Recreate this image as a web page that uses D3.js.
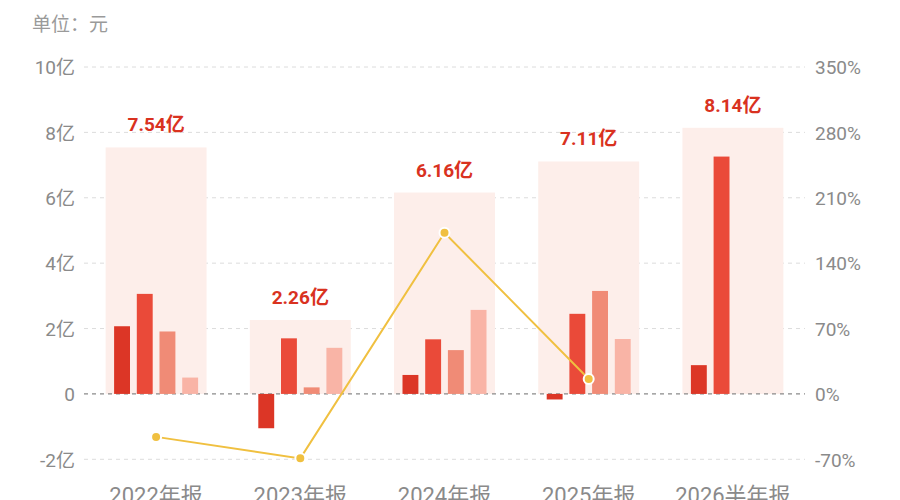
<!DOCTYPE html>
<html>
<head>
<meta charset="utf-8">
<script src="https://cdn.jsdelivr.net/npm/d3@7"></script>
<style>
  html, body { margin: 0; padding: 0; background: #fff; }
  svg { display: block; }
</style>
</head>
<body>
<svg id="chart" width="900" height="500"></svg>
<script>
const categories = ["2022年报", "2023年报", "2024年报", "2025年报", "2026半年报"];
const totals = [7.54, 2.26, 6.16, 7.11, 8.14];
const totalLabels = ["7.54亿", "2.26亿", "6.16亿", "7.11亿", "8.14亿"];
const q1 = [2.07, -1.05, 0.58, -0.17, 0.88];
const q2 = [3.06, 1.70, 1.67, 2.45, 7.26];
const q3 = [1.91, 0.20, 1.34, 3.15, null];
const q4 = [0.50, 1.41, 2.57, 1.68, null];
const growth = [-46, -69, 172.5, 16, null];
const leftTicks = [-2, 0, 2, 4, 6, 8, 10];
const leftTickLabels = ["-2亿", "0", "2亿", "4亿", "6亿", "8亿", "10亿"];
const rightTicks = [-70, 0, 70, 140, 210, 280, 350];
const rightTickLabels = ["-70%", "0%", "70%", "140%", "210%", "280%", "350%"];
const seriesColors = ["#dc3626", "#ea4a39", "#f08b76", "#f9b4a6"];

(function () {
const svg = d3.select("#chart");
const mLeft = 84, mRight = 805, mTop = 67, mBottom = 459.3;
const numFont = "Roboto, 'Noto Sans CJK SC', sans-serif";

const x = d3.scaleBand().domain(categories).range([mLeft, mRight]).padding(0);
const y = d3.scaleLinear().domain([-2, 10]).range([mBottom, mTop]);
const yR = d3.scaleLinear().domain([-70, 350]).range([mBottom, mTop]);
const inner = d3.scaleBand().domain([0, 1, 2, 3]).range([-42, 42]).paddingInner(0.3);

// title
svg.append("text").attr("x", 32).attr("y", 31)
  .attr("font-family", "'Noto Sans CJK SC', sans-serif").attr("font-size", 19)
  .attr("fill", "#9a9a9a").text("单位：元");

// gridlines
const grid = svg.append("g");
grid.selectAll("line").data(leftTicks.filter(d => d !== 0)).join("line")
  .attr("x1", mLeft).attr("x2", mRight)
  .attr("y1", d => y(d)).attr("y2", d => y(d))
  .attr("stroke", "#dcdcdc")
  .attr("stroke-width", 1)
  .attr("stroke-dasharray", "4,4");

// left axis labels
const yAxis = d3.axisLeft(y).tickValues(leftTicks)
  .tickFormat((d, i) => leftTickLabels[i]).tickSize(0).tickPadding(0);
const gl = svg.append("g").attr("transform", `translate(75,0)`).call(yAxis);
gl.select(".domain").remove();
gl.selectAll("text").attr("font-family", numFont).attr("font-size", 19)
  .attr("fill", "#8a8a8a").attr("dy", "0.36em");

// right axis labels
const yAxisR = d3.axisRight(yR).tickValues(rightTicks)
  .tickFormat((d, i) => rightTickLabels[i]).tickSize(0).tickPadding(0);
const gr = svg.append("g").attr("transform", `translate(815,0)`).call(yAxisR);
gr.select(".domain").remove();
gr.selectAll("text").attr("font-family", numFont).attr("font-size", 19)
  .attr("fill", "#8a8a8a").attr("dy", "0.36em");

// backgrounds
const bgW = x.bandwidth() * 0.7;
svg.append("g").selectAll("rect").data(categories).join("rect")
  .attr("x", d => x(d) + x.bandwidth() / 2 - bgW / 2)
  .attr("width", bgW)
  .attr("y", (d, i) => y(totals[i]))
  .attr("height", (d, i) => y(0) - y(totals[i]))
  .attr("fill", "#fdeeea");

// zero line over backgrounds
svg.append("line").attr("x1", mLeft).attr("x2", mRight)
  .attr("y1", y(0)).attr("y2", y(0))
  .attr("stroke", "#8a8a8a").attr("stroke-width", 1.3).attr("stroke-dasharray", "4,4");

// bars
const series = [q1, q2, q3, q4];
const bars = [];
series.forEach((s, si) => {
  s.forEach((v, ci) => {
    if (v !== null) bars.push({ si, ci, v });
  });
});
svg.append("g").selectAll("rect").data(bars).join("rect")
  .attr("x", d => x(categories[d.ci]) + x.bandwidth() / 2 + inner(d.si))
  .attr("width", inner.bandwidth())
  .attr("y", d => y(Math.max(0, d.v)))
  .attr("height", d => Math.abs(y(d.v) - y(0)))
  .attr("fill", d => seriesColors[d.si]);

// total labels
svg.append("g").selectAll("text").data(categories).join("text")
  .attr("x", d => x(d) + x.bandwidth() / 2)
  .attr("y", (d, i) => y(totals[i]) - 16)
  .attr("text-anchor", "middle")
  .attr("font-family", numFont).attr("font-weight", "bold").attr("font-size", 19)
  .attr("fill", "#d9321f")
  .text((d, i) => totalLabels[i]);

// growth line
const pts = categories.map((c, i) => ({ c, v: growth[i] })).filter(d => d.v !== null);
const line = d3.line().x(d => x(d.c) + x.bandwidth() / 2).y(d => yR(d.v));
svg.append("path").datum(pts).attr("d", line)
  .attr("fill", "none").attr("stroke", "#f0c040").attr("stroke-width", 2);
svg.append("g").selectAll("circle").data(pts).join("circle")
  .attr("cx", d => x(d.c) + x.bandwidth() / 2).attr("cy", d => yR(d.v))
  .attr("r", 5).attr("fill", "#f0c040").attr("stroke", "#fff").attr("stroke-width", 2);

// x labels
svg.append("g").selectAll("text").data(categories).join("text")
  .attr("x", d => x(d) + x.bandwidth() / 2)
  .attr("y", 503)
  .attr("text-anchor", "middle")
  .attr("font-family", numFont).attr("font-size", 22)
  .attr("fill", "#8a8a8a")
  .text(d => d);
})();
</script>
</body>
</html>
